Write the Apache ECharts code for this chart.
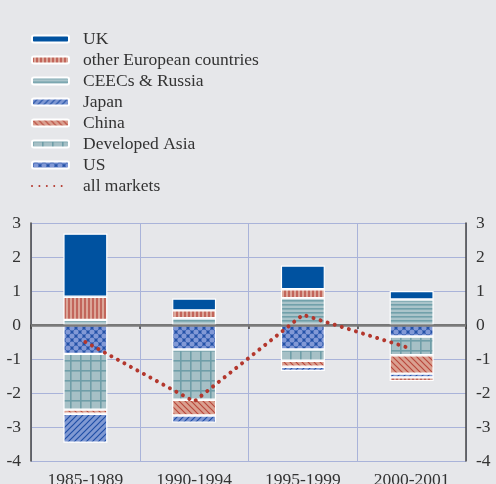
<!DOCTYPE html>
<html><head><meta charset="utf-8">
<script src="https://cdn.jsdelivr.net/npm/echarts@6/dist/echarts.min.js"></script>
<style>html,body{margin:0;padding:0;background:#e6e7ea;}#c{width:496px;height:484px;}</style>
</head><body><div id="c"></div>
<script>
const categories = ['1985-1989', '1990-1994', '1995-1999', '2000-2001'];
const ukValues = [1.86, 0.35, 0.70, 0.25];
const otherEuropeValues = [0.68, 0.23, 0.26, -0.11];
const ceecsValues = [0.15, 0.20, 0.79, 0.75];
const japanValues = [-0.85, -0.21, -0.12, -0.11];
const chinaValues = [-0.12, -0.46, -0.18, -0.54];
const devAsiaValues = [-1.64, -1.48, -0.33, -0.55];
const usValues = [-0.85, -0.72, -0.72, -0.34];
const allMarketsValues = [-0.5, -2.25, 0.3, -0.7];
const yTicks = [-4, -3, -2, -1, 0, 1, 2, 3];

function tile(w, h, draw) {
  const c = document.createElement('canvas');
  c.width = w; c.height = h;
  const g = c.getContext('2d');
  draw(g, w, h);
  return { image: c, repeat: 'repeat' };
}
const pOtherEU = tile(4, 4, (g) => { g.fillStyle = '#dba698'; g.fillRect(0,0,4,4); g.fillStyle = '#c2665b'; g.fillRect(0,0,2,4); });
const pCEECs = tile(4, 4, (g) => { g.fillStyle = '#aac4ca'; g.fillRect(0,0,4,4); g.fillStyle = '#71a0aa'; g.fillRect(0,0,4,1.6); });
const pDevAsia = tile(10, 10, (g) => { g.fillStyle = '#a6c0c6'; g.fillRect(0,0,10,10); g.fillStyle = '#6f9ea8'; g.fillRect(0,0,1.6,10); g.fillRect(0,0,10,1.6); });
const pJapan = tile(6, 6, (g) => {
  g.fillStyle = '#8099d3'; g.fillRect(0,0,6,6);
  g.strokeStyle = '#1f4fa6'; g.lineWidth = 1.2;
  g.beginPath(); g.moveTo(-1,7); g.lineTo(7,-1); g.moveTo(-1,1); g.lineTo(1,-1); g.moveTo(5,7); g.lineTo(7,5); g.stroke();
});
const pChina = tile(6, 6, (g) => {
  g.fillStyle = '#daa090'; g.fillRect(0,0,6,6);
  g.strokeStyle = '#b9483c'; g.lineWidth = 1.2;
  g.beginPath(); g.moveTo(-1,-1); g.lineTo(7,7); g.moveTo(5,-1); g.lineTo(7,1); g.moveTo(-1,5); g.lineTo(1,7); g.stroke();
});
const pUS = tile(8, 8, (g) => {
  g.fillStyle = '#2452a8'; g.fillRect(0,0,8,8);
  g.fillStyle = '#8299d6';
  const pts = [[0,0],[8,0],[0,8],[8,8],[4,4]];
  pts.forEach(p => { g.beginPath(); g.arc(p[0], p[1], 2.6, 0, Math.PI*2); g.fill(); });
});

const border = { borderColor: '#ffffff', borderWidth: 1.2 };
function barSeries(name, data, color) {
  return { name, type: 'bar', stack: 'total', data, barWidth: 44,
    itemStyle: Object.assign({ color }, border), emphasis: { disabled: true } };
}
const serif = "'Liberation Serif', 'Times New Roman', serif";
const fs = 17.5;
const series = [
  barSeries('US', usValues, pUS),
  barSeries('Developed Asia', devAsiaValues, pDevAsia),
  barSeries('China', chinaValues, pChina),
  barSeries('Japan', japanValues, pJapan),
  barSeries('CEECs & Russia', ceecsValues, pCEECs),
  barSeries('other European countries', otherEuropeValues, pOtherEU),
  barSeries('UK', ukValues, '#0052a0'),
  { name: 'all markets', type: 'line', data: allMarketsValues, symbol: 'none', z: 5,
    lineStyle: { color: '#b3372d', width: 4, type: [0.01, 7.4], cap: 'round' },
    itemStyle: { color: '#b3372d' },
    markLine: { silent: true, symbol: 'none', label: { show: false },
      lineStyle: { color: '#7a7a7a', width: 2.5, type: 'solid' }, data: [{ yAxis: 0 }] } }
];

const chart = echarts.init(document.getElementById('c'));
chart.setOption({
  backgroundColor: '#e6e7ea',
  animation: false,
  legend: {
    orient: 'vertical', left: 31, top: 30, padding: 0, itemWidth: 37, itemHeight: 7, itemGap: 3,
    data: ['UK', 'other European countries', 'CEECs & Russia', 'Japan', 'China', 'Developed Asia', 'US',
      { name: 'all markets', itemStyle: { opacity: 0 } }],
    textStyle: { fontFamily: serif, fontSize: fs, color: '#333', lineHeight: 16, padding: [0, 0, 0, 9] },
    selectedMode: false
  },
  grid: { left: 31, right: 30, top: 223, bottom: 23, containLabel: false, outerBoundsMode: 'none' },
  xAxis: {
    type: 'category', data: categories, boundaryGap: true,
    axisLine: { lineStyle: { color: '#444', width: 1.5 } },
    axisTick: { show: true, length: 4, lineStyle: { color: '#444', width: 1.5 } },
    axisLabel: { fontFamily: serif, fontSize: fs, color: '#333', margin: 10 },
    splitLine: { show: true, lineStyle: { color: '#a9b3d9', width: 1 } }
  },
  yAxis: [
    { type: 'value', min: -4, max: 3, interval: 1, position: 'left',
      axisLine: { show: true, lineStyle: { color: '#444', width: 1.5 } },
      axisTick: { show: false },
      axisLabel: { fontFamily: serif, fontSize: fs, color: '#333', margin: 10,
        formatter: v => yTicks.indexOf(v) >= 0 ? String(v) : '' },
      splitLine: { show: true, lineStyle: { color: '#a9b3d9', width: 1 } } },
    { type: 'value', min: -4, max: 3, interval: 1, position: 'right',
      axisLine: { show: true, lineStyle: { color: '#444', width: 1.5 } },
      axisTick: { show: false },
      axisLabel: { fontFamily: serif, fontSize: fs, color: '#333', margin: 10 },
      splitLine: { show: false } }
  ],
  series
});
</script></body></html>
